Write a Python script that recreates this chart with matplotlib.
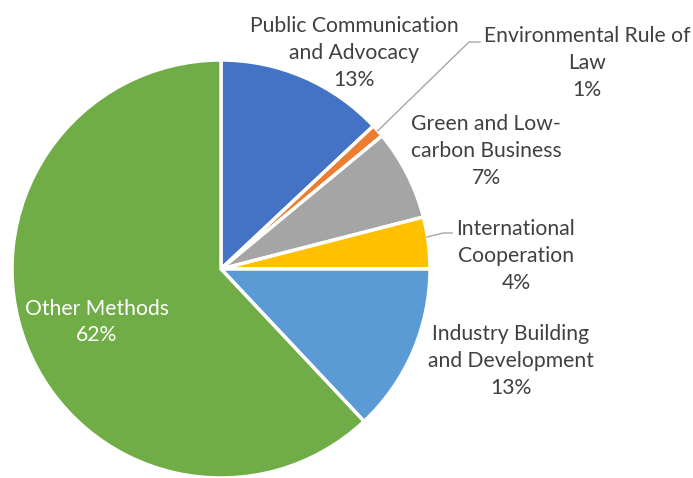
import numpy as np
import matplotlib.pyplot as plt

labels = ["Public Communication\nand Advocacy", "Environmental Rule of\nLaw",
          "Green and Low-\ncarbon Business", "International\nCooperation",
          "Industry Building\nand Development", "Other Methods"]
values = [13, 1, 7, 4, 13, 62]
colors = ["#4472C4", "#ED7D31", "#A5A5A5", "#FFC000", "#5B9BD5", "#70AD47"]

W, H = 693, 478
fig = plt.figure(figsize=(W / 100, H / 100), dpi=100)
ax = fig.add_axes([0, 0, 1, 1])

cx, cy, r = 221, H - 269, 209
wedges, _ = ax.pie(values, colors=colors, startangle=90, counterclock=False,
                   center=(cx, cy), radius=r, frame=True,
                   wedgeprops=dict(edgecolor="white", linewidth=2.5))
ax.set_xlim(0, W)
ax.set_ylim(0, H)
ax.set_aspect("equal")
ax.axis("off")

# label positions (pixel, from top-left)
pos = [(354, 53), (587, 63), (486, 151), (516, 256), (511, 361), (97, 322)]
font = "Lato"
for i, (lab, v) in enumerate(zip(labels, values)):
    x, y = pos[i]
    col = "white" if i == 5 else "#404040"
    ax.text(x, H - y, f"{lab}\n{v}%", ha="center", va="center", fontsize=15.2,
            color=col, family=font, linespacing=1.42)

# leader lines
ang = np.deg2rad(90 - 360 * (13 + 0.5) / 100)
x0, y0 = cx + r * np.cos(ang), cy + r * np.sin(ang)
ax.plot([x0, 469, 480], [y0, H - 42, H - 42], color="#A6A6A6", lw=1)
ax.plot([427, 443, 452], [H - 237, H - 233, H - 233], color="#A6A6A6", lw=1)

fig.savefig("out.png", dpi=100)
